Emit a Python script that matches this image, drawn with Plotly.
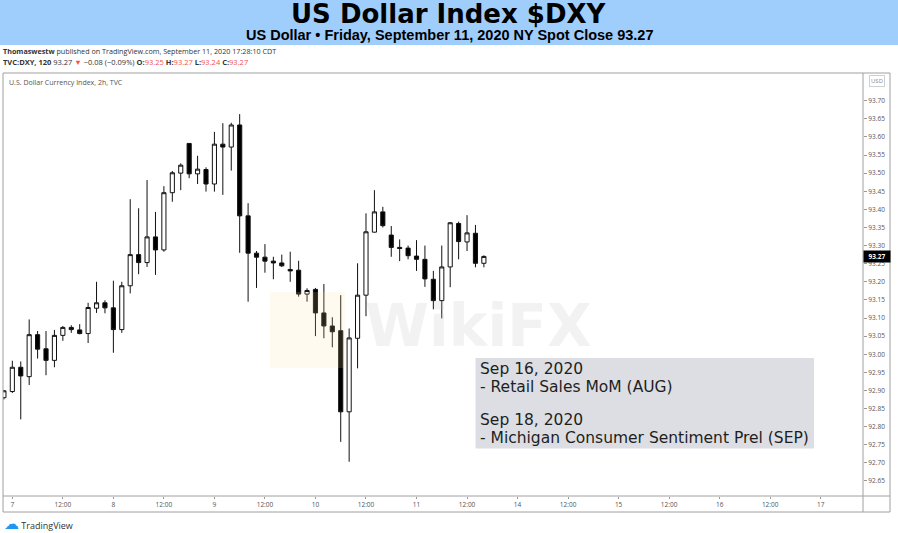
import plotly.graph_objects as go
import pandas as pd

# ---------------- data ----------------
bar_times = pd.date_range("2020-09-06 22:00", periods=58, freq="2h")

opens = [92.880, 92.897, 92.964, 92.938, 93.054, 93.015, 92.983, 93.052, 93.074, 93.067,
         93.057, 93.127, 93.142, 93.128, 93.068, 93.189, 93.275, 93.253, 93.324, 93.288,
         93.446, 93.500, 93.582, 93.498, 93.510, 93.470, 93.580, 93.572, 93.633, 93.382,
         93.279, 93.268, 93.257, 93.252, 93.234, 93.232, 93.166, 93.179, 93.114, 93.078,
         93.065, 92.841, 93.044, 93.163, 93.337, 93.393, 93.329, 93.295, 93.293, 93.271,
         93.262, 93.207, 93.148, 93.241, 93.361, 93.310, 93.334, 93.251]
highs = [92.901, 92.982, 92.980, 93.096, 93.064, 93.064, 93.067, 93.078, 93.080, 93.083,
         93.142, 93.200, 93.149, 93.203, 93.200, 93.428, 93.403, 93.481, 93.393, 93.464,
         93.506, 93.527, 93.582, 93.548, 93.516, 93.614, 93.638, 93.639, 93.663, 93.417,
         93.285, 93.304, 93.269, 93.275, 93.283, 93.258, 93.182, 93.183, 93.194, 93.102,
         93.163, 93.071, 93.251, 93.389, 93.453, 93.407, 93.354, 93.317, 93.300, 93.315,
         93.300, 93.230, 93.300, 93.365, 93.366, 93.384, 93.357, 93.273]
lows = [92.875, 92.893, 92.820, 92.915, 92.988, 92.942, 92.964, 93.037, 93.059, 93.055,
        93.031, 93.114, 93.113, 93.004, 93.059, 93.168, 93.221, 93.241, 93.219, 93.283,
        93.421, 93.453, 93.486, 93.470, 93.449, 93.449, 93.440, 93.507, 93.280, 93.145,
        93.183, 93.225, 93.207, 93.241, 93.200, 93.159, 93.145, 93.050, 93.044, 93.019,
        92.758, 92.703, 92.961, 93.105, 93.336, 93.350, 93.269, 93.257, 93.262, 93.230,
        93.186, 93.124, 93.099, 93.185, 93.262, 93.285, 93.240, 93.240]
closes = [92.899, 92.964, 92.940, 93.054, 93.014, 92.983, 93.052, 93.074, 93.068, 93.057,
          93.129, 93.142, 93.128, 93.068, 93.189, 93.275, 93.253, 93.324, 93.288, 93.446,
          93.501, 93.522, 93.498, 93.511, 93.470, 93.580, 93.572, 93.633, 93.382, 93.279,
          93.268, 93.257, 93.252, 93.244, 93.230, 93.166, 93.176, 93.114, 93.078, 93.062,
          92.841, 93.045, 93.163, 93.338, 93.393, 93.355, 93.295, 93.292, 93.272, 93.262,
          93.208, 93.148, 93.241, 93.363, 93.311, 93.335, 93.251, 93.270]

x_tick_times = ["2020-09-07 00:00", "2020-09-07 12:00", "2020-09-08 00:00", "2020-09-08 12:00",
                "2020-09-09 00:00", "2020-09-09 12:00", "2020-09-10 00:00", "2020-09-10 12:00",
                "2020-09-11 00:00", "2020-09-11 12:00", "2020-09-14 00:00", "2020-09-14 12:00",
                "2020-09-15 00:00", "2020-09-15 12:00", "2020-09-16 00:00", "2020-09-16 12:00",
                "2020-09-17 00:00"]
x_tick_labels = ["7", "12:00", "8", "12:00", "9", "12:00", "10", "12:00", "11", "12:00",
                 "14", "12:00", "15", "12:00", "16", "12:00", "17"]
y_ticks = [92.65, 92.70, 92.75, 92.80, 92.85, 92.90, 92.95, 93.00, 93.05, 93.10, 93.15,
           93.20, 93.25, 93.30, 93.35, 93.40, 93.45, 93.50, 93.55, 93.60, 93.65, 93.70]
y_tick_labels = [f"{v:.2f}" for v in y_ticks]
last_close = 93.27

title = "US Dollar Index $DXY"
subtitle = "US Dollar • Friday, September 11, 2020 NY Spot Close 93.27"
event_lines = ["Sep 16, 2020", "- Retail Sales MoM (AUG)", "Sep 18, 2020",
               "- Michigan Consumer Sentiment Prel (SEP)"]

# ---------------- layout helpers (pixel -> paper) ----------------
W, H = 898, 533
L, R, T, B = 3, 863, 73, 496


def fx(px):
    return (px - L) / (R - L)


def fy(py):
    return (B - py) / (B - T)


RED = "#ef5350"

fig = go.Figure()
fig.add_trace(go.Candlestick(
    x=bar_times, open=opens, high=highs, low=lows, close=closes,
    increasing=dict(line=dict(color="#111111", width=1), fillcolor="#ffffff"),
    decreasing=dict(line=dict(color="#111111", width=1), fillcolor="#000000"),
    whiskerwidth=0, showlegend=False, hoverinfo="skip",
))

shapes = [
    # title banner
    dict(type="rect", xref="paper", yref="paper", x0=fx(0), x1=fx(W), y0=fy(45), y1=fy(0),
         fillcolor="#9fcdfc", line=dict(width=0), layer="below"),
    # chart frame
    dict(type="rect", xref="paper", yref="paper", x0=fx(3), x1=fx(890), y0=fy(512), y1=fy(73),
         line=dict(color="#a0a0a0", width=1)),
    dict(type="line", xref="paper", yref="paper", x0=fx(3), x1=fx(890), y0=fy(496), y1=fy(496),
         line=dict(color="#a0a0a0", width=1)),
    dict(type="line", xref="paper", yref="paper", x0=fx(863), x1=fx(863), y0=fy(512), y1=fy(73),
         line=dict(color="#a0a0a0", width=1)),
    # event box
    dict(type="rect", xref="paper", yref="paper", x0=fx(475.5), x1=fx(814), y0=fy(448.5),
         y1=fy(358), fillcolor="#dcdee3", line=dict(width=0), layer="above"),
    # watermark logo
    dict(type="rect", xref="paper", yref="paper", x0=fx(270), x1=fx(345), y0=fy(368),
         y1=fy(292), fillcolor="rgba(250,225,160,0.16)", line=dict(width=0), layer="above"),
]

annotations = [
    dict(text=f"<b>{title}</b>", x=fx(449), y=fy(14), xref="paper", yref="paper",
         showarrow=False, font=dict(family="DejaVu Sans", size=26, color="#000"),
         xanchor="center", yanchor="middle"),
    dict(text=f"<b>{subtitle}</b>", x=fx(450), y=fy(35.5), xref="paper", yref="paper",
         showarrow=False, font=dict(family="Liberation Sans", size=14.5, color="#000"),
         xanchor="center", yanchor="middle"),
    dict(text="<b>Thomaswestw</b> published on TradingView.com, September 11, 2020 17:28:10 CDT",
         x=fx(1), y=fy(51.5), xref="paper", yref="paper", showarrow=False,
         font=dict(family="Open Sans", size=7.2, color="#333"), xanchor="left", yanchor="middle"),
    dict(text=(f"<b>TVC:DXY, 120</b> 93.27 <span style='color:{RED}'>▼</span> −0.08 (−0.09%) "
               f"<b>O:</b><span style='color:{RED}'>93.25</span> <b>H:</b><span style='color:{RED}'>93.27</span> "
               f"<b>L:</b><span style='color:{RED}'>93.24</span> <b>C:</b><span style='color:{RED}'>93.27</span>"),
         x=fx(1), y=fy(62.5), xref="paper", yref="paper", showarrow=False,
         font=dict(family="Open Sans", size=7.5, color="#333"), xanchor="left", yanchor="middle"),
    dict(text="U.S. Dollar Currency Index, 2h, TVC", x=fx(7), y=fy(82), xref="paper", yref="paper",
         showarrow=False, font=dict(family="Open Sans", size=7, color="#555"),
         xanchor="left", yanchor="middle"),
    dict(text="USD", x=fx(877), y=fy(81), xref="paper", yref="paper", showarrow=False,
         font=dict(family="Open Sans", size=6, color="#888"), bordercolor="#d0d0d0",
         borderwidth=1, borderpad=1, xanchor="center", yanchor="middle"),
    dict(text=f"<b>{last_close:.2f}</b>", x=fx(863), y=last_close, xref="paper", yref="y",
         showarrow=False, font=dict(family="Open Sans", size=6.5, color="#fff"),
         bgcolor="#000", width=24, height=9, xanchor="left", yanchor="middle"),
    dict(text="<span style='color:#2196f3;font-size:15px'>☁</span> TradingView", x=fx(2), y=fy(523),
         xref="paper", yref="paper", showarrow=False,
         font=dict(family="Open Sans", size=9, color="#333"), xanchor="left", yanchor="middle"),
    dict(text="<b>WikiFX</b>", x=fx(478), y=fy(326), xref="paper", yref="paper", showarrow=False,
         font=dict(family="DejaVu Sans", size=58, color="rgba(190,190,190,0.2)"),
         xanchor="center", yanchor="middle"),
]
for line, py in zip(event_lines, [369, 386.5, 420, 437.5]):
    annotations.append(dict(
        text=line, x=fx(477.5), y=fy(py), xref="paper", yref="paper", showarrow=False,
        align="left", font=dict(family="DejaVu Sans", size=15.5, color="#1e1e1e"),
        xanchor="left", yanchor="middle"))

fig.update_layout(
    width=W, height=H,
    margin=dict(l=L, r=W - R, t=T, b=H - B, pad=0),
    paper_bgcolor="#ffffff", plot_bgcolor="#ffffff",
    shapes=shapes, annotations=annotations,
    xaxis=dict(
        type="date",
        range=["2020-09-06 21:47", "2020-09-17 10:03"],
        rangebreaks=[dict(values=["2020-09-12", "2020-09-13"])],
        rangeslider=dict(visible=False),
        tickmode="array", tickvals=x_tick_times, ticktext=x_tick_labels,
        ticks="outside", ticklen=2, tickcolor="#999",
        tickfont=dict(family="Open Sans", size=6.5, color="#555"),
        showgrid=False, zeroline=False, showline=False,
    ),
    yaxis=dict(
        side="right",
        range=[92.6085, 93.7765],
        tickmode="array", tickvals=y_ticks, ticktext=y_tick_labels,
        ticks="outside", ticklen=3, tickcolor="#999",
        tickfont=dict(family="Open Sans", size=6.5, color="#555"),
        showgrid=False, zeroline=False, showline=False,
    ),
)

fig.write_html("out.html", config={"displayModeBar": False},
               post_script="document.body.style.margin='0';")
